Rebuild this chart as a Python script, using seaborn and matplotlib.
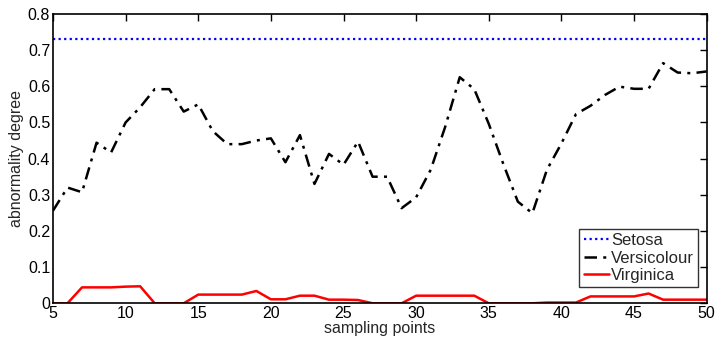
import numpy as np
import pandas as pd
import matplotlib
matplotlib.use("Agg")
import matplotlib.pyplot as plt
import seaborn as sns

# sampling points and abnormality degree of each class
points = list(range(5, 51))
setosa = [0.73] * len(points)
versicolour = [0.256, 0.320, 0.307, 0.444, 0.417, 0.500, 0.542, 0.592, 0.592, 0.530,
               0.550, 0.476, 0.440, 0.440, 0.450, 0.456, 0.390, 0.465, 0.330, 0.413,
               0.383, 0.447, 0.350, 0.350, 0.263, 0.293, 0.369, 0.488, 0.625, 0.592,
               0.496, 0.385, 0.281, 0.249, 0.369, 0.442, 0.523, 0.546, 0.576, 0.599,
               0.593, 0.593, 0.664, 0.638, 0.636, 0.641]
virginica = [0.0, 0.0, 0.044, 0.044, 0.044, 0.046, 0.047, 0.0, 0.0, 0.0,
             0.024, 0.024, 0.024, 0.024, 0.034, 0.011, 0.011, 0.021, 0.021, 0.010,
             0.010, 0.009, 0.0, 0.0, 0.0, 0.021, 0.021, 0.021, 0.021, 0.021,
             0.0, 0.0, 0.0, 0.0, 0.002, 0.002, 0.002, 0.019, 0.019, 0.019,
             0.019, 0.027, 0.010, 0.010, 0.010, 0.010]

x_ticks = [5, 10, 15, 20, 25, 30, 35, 40, 45, 50]
y_ticks = [0, 0.1, 0.2, 0.3, 0.4, 0.5, 0.6, 0.7, 0.8]
y_tick_labels = ["0", "0.1", "0.2", "0.3", "0.4", "0.5", "0.6", "0.7", "0.8"]

sns.set_style("white")
plt.rcParams["font.family"] = ["Liberation Sans", "DejaVu Sans"]

df = pd.DataFrame({"point": points, "Setosa": setosa,
                   "Versicolour": versicolour, "Virginica": virginica})

fig = plt.figure(figsize=(7.16, 3.4), dpi=100)
ax = fig.add_axes([0.074, 0.108, 0.913, 0.851])

sns.lineplot(data=df, x="point", y="Setosa", ax=ax, color="#0000ff",
             linestyle=(0, (1, 1.5)), linewidth=1.6, label="Setosa")
sns.lineplot(data=df, x="point", y="Versicolour", ax=ax, color="black",
             linestyle=(0, (5, 2.5, 1.2, 2.5)), linewidth=1.8, label="Versicolour")
sns.lineplot(data=df, x="point", y="Virginica", ax=ax, color="#ff0000",
             linestyle="-", linewidth=1.8, label="Virginica")

ax.set_xlim(5, 50)
ax.set_ylim(0, 0.8)
ax.set_xticks(x_ticks)
ax.set_yticks(y_ticks)
ax.set_yticklabels(y_tick_labels)
ax.tick_params(direction="in", length=5, width=1, labelsize=11.5,
               top=True, right=True, colors="black", pad=2)
ax.set_xlabel("sampling points", fontsize=11.5, labelpad=0)
ax.set_ylabel("abnormality degree", fontsize=11.5, labelpad=3)
for s in ax.spines.values():
    s.set_color("black")
    s.set_linewidth(1.2)

leg = ax.legend(loc="lower right", bbox_to_anchor=(0.987, 0.055), fontsize=12,
                frameon=True, fancybox=False, handlelength=1.55,
                handletextpad=0.1, borderpad=0.25, labelspacing=0.15,
                borderaxespad=0)
leg.get_frame().set_edgecolor("black")
leg.get_frame().set_linewidth(1.0)

fig.savefig("out.png", dpi=100)
